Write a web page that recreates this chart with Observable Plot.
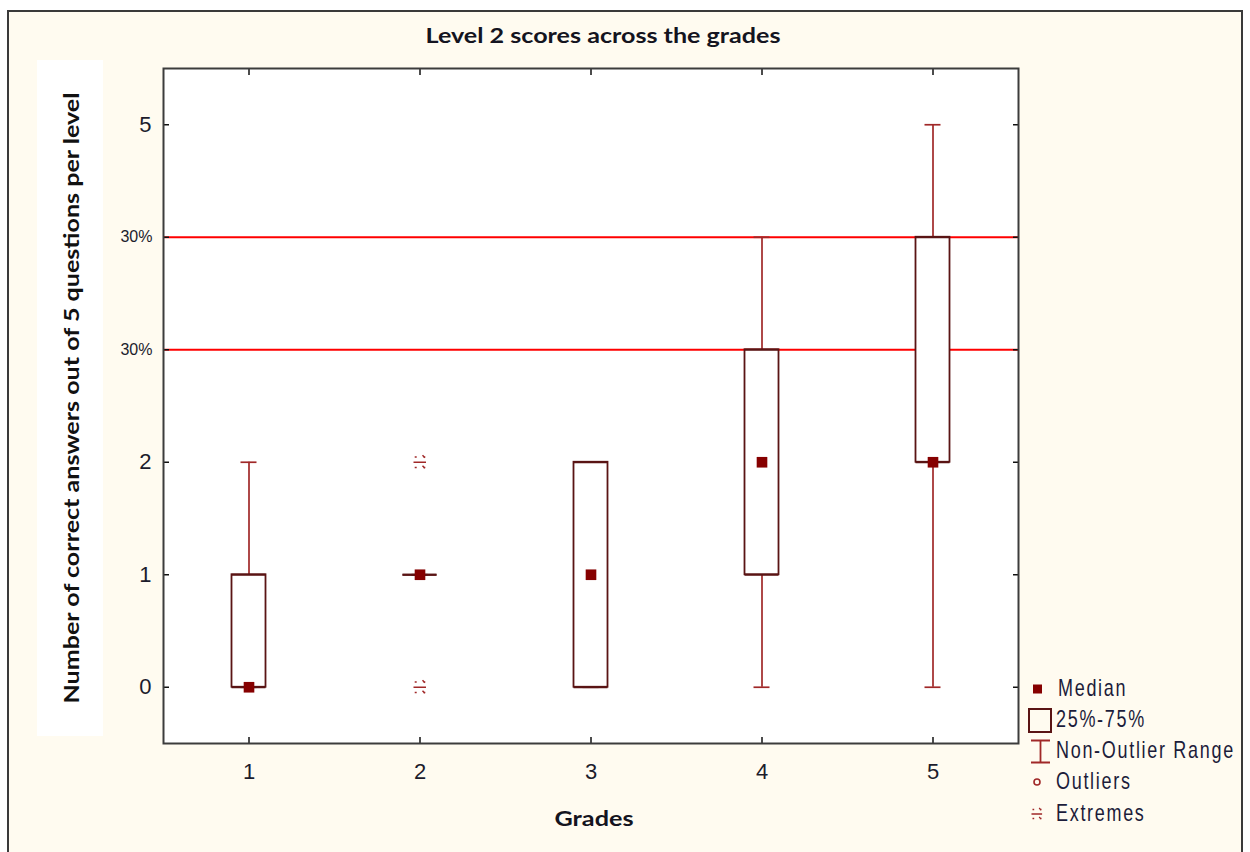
<!DOCTYPE html>
<html>
<head>
<meta charset="utf-8">
<script src="https://cdn.jsdelivr.net/npm/d3@7"></script>
<script src="https://cdn.jsdelivr.net/npm/@observablehq/plot@0.6"></script>
<style>
  html, body { margin: 0; padding: 0; background: #ffffff; }
  #wrap { position: relative; width: 1250px; height: 852px; overflow: hidden; }
  #panel { position: absolute; left: 7px; top: 10px; width: 1236px; height: 850px;
           border: 2px solid #3a3a3a; background: #fffbf0; box-sizing: border-box; }
  #chart { position: absolute; left: 0; top: 0; }
  #overlay { position: absolute; left: 0; top: 0; pointer-events: none; }
</style>
</head>
<body>
<div id="wrap">
  <div id="panel"></div>
  <div id="chart"></div>
  <svg id="overlay" width="1250" height="852"></svg>
</div>
<script>
// ---- data ----
const grades      = [1, 2, 3, 4, 5];
const q1          = [0, 1, 0, 1, 2];
const q3          = [1, 1, 2, 3, 4];
const medians     = [0, 1, 1, 2, 2];
const whiskerMin  = [0, 1, 0, 0, 0];
const whiskerMax  = [2, 1, 2, 4, 5];
const extremeGrades = [2, 2];
const extremeValues = [0, 2];
const referenceLines = [3, 4];
const yTickMain = [0, 1, 2, 5];
const yTickMainLabels = ["0", "1", "2", "5"];
const yTickPct = [3, 4];
const yTickPctLabels = ["30%", "30%"];
const titleText = "Level 2 scores across the grades";
const xTitle = "Grades";
const yTitle = "Number of correct answers out of 5 questions per level";
const legendLabels = ["Median", "25%-75%", "Non-Outlier Range", "Outliers", "Extremes"];

const table = grades.map((g, i) => ({
  grade: g, q1: q1[i], q3: q3[i], median: medians[i], min: whiskerMin[i], max: whiskerMax[i]
}));
const extremes = extremeGrades.map((g, i) => ({grade: g, value: extremeValues[i]}));

const boxColor = "#5a1414";
const whiskerColor = "#a02828";
const medianColor = "#860000";

const extremeSymbol = {
  draw(ctx) {
    ctx.moveTo(-6.5, 0); ctx.lineTo(6, 0);
    for (const [x, y] of [[-4.3, -5.3], [4.3, -5.3], [-4.3, 5.3], [4.3, 5.3]]) {
      ctx.moveTo(x - 1, y); ctx.lineTo(x + 1, y);
    }
    ctx.moveTo(2.5, -7); ctx.lineTo(5, -4.5);
    ctx.moveTo(2.5, 3.5); ctx.lineTo(5, 6);
  }
};

const mainLabelMap = new Map(yTickMain.map((v, i) => [v, yTickMainLabels[i]]));
const pctLabelMap = new Map(yTickPct.map((v, i) => [v, yTickPctLabels[i]]));
const allYTicks = [...yTickMain, ...yTickPct].sort((a, b) => a - b);

const plot = Plot.plot({
  width: 1250,
  height: 852,
  marginLeft: 163,
  marginRight: 232,
  marginTop: 68,
  marginBottom: 109,
  style: {background: "transparent", fontFamily: "'Liberation Sans', Arial, sans-serif", color: "#1c1c2c", overflow: "visible"},
  x: {type: "band", domain: grades, padding: 0, label: null},
  y: {domain: [-0.5, 5.5], label: null},
  marks: [
    Plot.frame({fill: "white", stroke: null}),
    Plot.ruleY(referenceLines, {stroke: "#ff0000", strokeWidth: 2}),
    Plot.ruleX(table, {x: "grade", y1: "min", y2: "max", stroke: whiskerColor, strokeWidth: 1.7}),
    Plot.tickY(table, {x: "grade", y: "min", insetLeft: 77.5, insetRight: 77.5, stroke: whiskerColor, strokeWidth: 1.7}),
    Plot.tickY(table, {x: "grade", y: "max", insetLeft: 77.5, insetRight: 77.5, stroke: whiskerColor, strokeWidth: 1.7}),
    Plot.barY(table, {x: "grade", y1: "q1", y2: "q3", insetLeft: 68.5, insetRight: 68.5, fill: "white", stroke: boxColor, strokeWidth: 1.8}),
    Plot.tickY(table, {x: "grade", y: "q1", insetLeft: 68.5, insetRight: 68.5, stroke: boxColor, strokeWidth: 1.8}),
    Plot.tickY(table, {x: "grade", y: "q3", insetLeft: 68.5, insetRight: 68.5, stroke: boxColor, strokeWidth: 1.8}),
    Plot.dot(table, {x: "grade", y: "median", symbol: "square", r: 6, fill: medianColor, stroke: null}),
    Plot.dot(extremes, {x: "grade", y: "value", symbol: extremeSymbol, stroke: whiskerColor, strokeWidth: 1.5, fill: "none"}),
    // tick marks pointing inward on all four sides
    Plot.axisX({anchor: "bottom", tickSize: -6, tickFormat: () => "", label: null, strokeWidth: 1.5, stroke: "#111"}),
    Plot.axisX({anchor: "top", tickSize: -6, tickFormat: () => "", label: null, strokeWidth: 1.5, stroke: "#111"}),
    Plot.axisY(allYTicks, {anchor: "left", tickSize: -6, tickFormat: () => "", label: null, strokeWidth: 1.5, stroke: "#111"}),
    Plot.axisY(allYTicks, {anchor: "right", tickSize: -6, tickFormat: () => "", label: null, strokeWidth: 1.5, stroke: "#111"}),
    // tick labels
    Plot.axisX({anchor: "bottom", tickSize: 0, tickPadding: 20, fontSize: 22, label: null}),
    Plot.axisY(yTickMain, {anchor: "left", tickSize: 0, tickPadding: 12, fontSize: 22, tickFormat: d => mainLabelMap.get(d), label: null}),
    Plot.axisY(yTickPct, {anchor: "left", tickSize: 0, tickPadding: 11, fontSize: 16, tickFormat: d => pctLabelMap.get(d), label: null, letterSpacing: -1.2}),
    Plot.frame({stroke: "#3c3c3c", strokeWidth: 2})
  ]
});
document.getElementById("chart").appendChild(plot);

// ---- titles and legend ----
const ov = d3.select("#overlay");
const titleFont = "Lato, 'Open Sans', sans-serif";
ov.append("text").attr("x", 603).attr("y", 43).attr("text-anchor", "middle")
  .attr("font-family", titleFont).attr("font-weight", 700).attr("font-size", 21)
  .attr("fill", "#141420").attr("textLength", 355).attr("lengthAdjust", "spacingAndGlyphs").text(titleText);

ov.append("rect").attr("x", 37).attr("y", 60).attr("width", 66).attr("height", 676).attr("fill", "white");
ov.append("text").attr("transform", "translate(79,398) rotate(-90)").attr("text-anchor", "middle")
  .attr("font-family", titleFont).attr("font-weight", 700).attr("font-size", 21)
  .attr("fill", "#111").attr("textLength", 611).attr("lengthAdjust", "spacingAndGlyphs").text(yTitle);

ov.append("text").attr("x", 594).attr("y", 826).attr("text-anchor", "middle")
  .attr("font-family", titleFont).attr("font-weight", 700).attr("font-size", 21)
  .attr("fill", "#141420").attr("textLength", 79).attr("lengthAdjust", "spacingAndGlyphs").text(xTitle);

// legend
const lg = ov.append("g");
const rowY = [689, 720, 751, 782, 814];
lg.append("rect").attr("x", 1033).attr("y", rowY[0] - 4.5).attr("width", 9).attr("height", 9).attr("fill", medianColor);
lg.append("rect").attr("x", 1029).attr("y", 709).attr("width", 22).attr("height", 23).attr("fill", "none").attr("stroke", boxColor).attr("stroke-width", 2);
lg.append("path").attr("d", "M1031,740.5H1050M1040.5,740.5V762.5M1031,762.5H1050").attr("fill", "none").attr("stroke", whiskerColor).attr("stroke-width", 1.8);
lg.append("circle").attr("cx", 1037).attr("cy", rowY[3]).attr("r", 3).attr("fill", "none").attr("stroke", whiskerColor).attr("stroke-width", 1.6);
lg.append("path").attr("transform", `translate(1037,${rowY[4]}) scale(0.85)`)
  .attr("d", "M-6.5,0H6M-5.3,-5.3H-3.3M3.3,-5.3H5.3M-5.3,5.3H-3.3M3.3,5.3H5.3M2.5,-7L5,-4.5M2.5,3.5L5,6")
  .attr("fill", "none").attr("stroke", whiskerColor).attr("stroke-width", 1.5);
legendLabels.forEach((t, i) => {
  lg.append("text").attr("transform", `translate(${i === 0 ? 1058 : 1056},${rowY[i] + 7}) scale(1,1.3)`)
    .attr("font-family", "'Liberation Sans', Arial, sans-serif").attr("font-size", 18)
    .attr("letter-spacing", 1.7).attr("fill", "#1c1c3a").text(t);
});
</script>
</body>
</html>
